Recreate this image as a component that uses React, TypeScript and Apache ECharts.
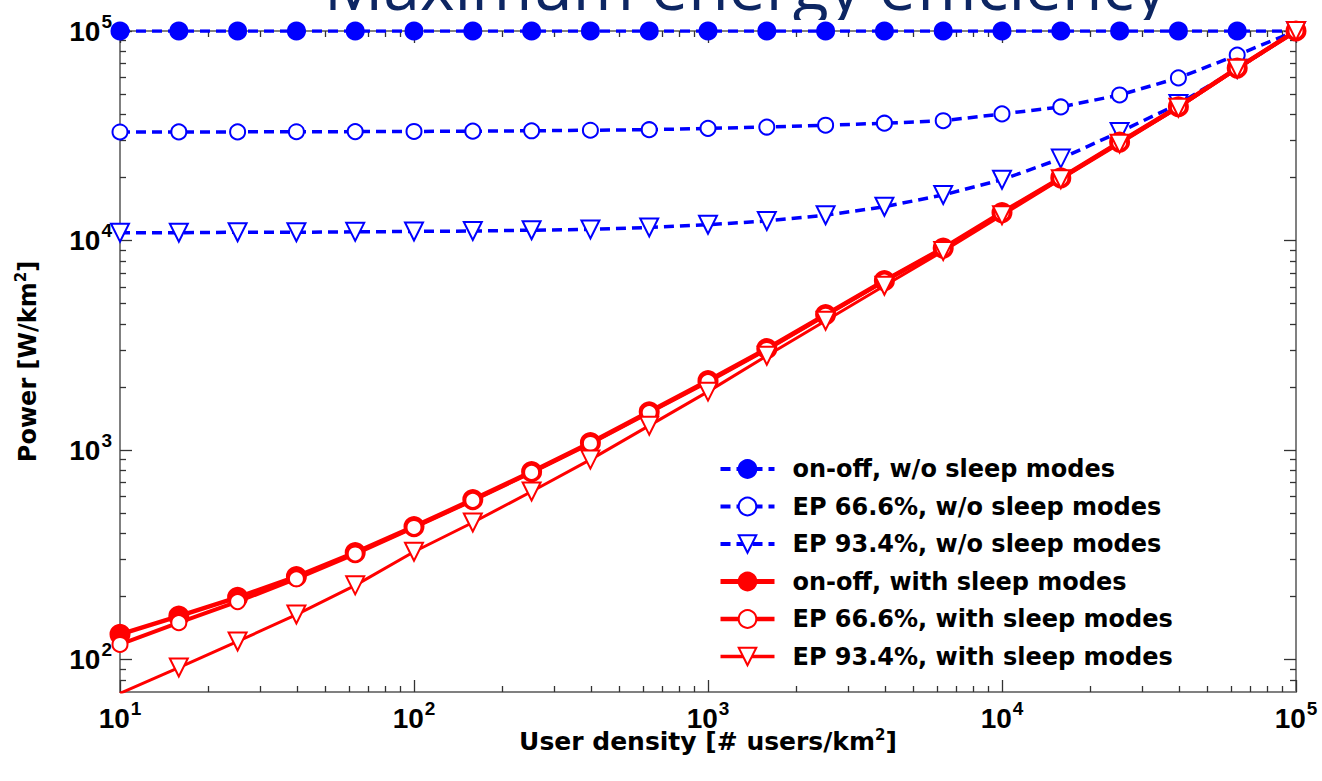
import React, { useEffect, useRef } from 'react';
import * as echarts from 'echarts';

// User density [# users/km^2]
const userDensity = [10, 15.85, 25.12, 39.81, 63.1, 100, 158.5, 251.2, 398.1, 631, 1000, 1585, 2512, 3981, 6310, 10000, 15849, 25119, 39811, 63096, 100000];

// Power [W/km^2]
const onOffNoSleep = [100000, 100000, 100000, 100000, 100000, 100000, 100000, 100000, 100000, 100000, 100000, 100000, 100000, 100000, 100000, 100000, 100000, 100000, 100000, 100000, 100000];
const ep666NoSleep = [32960, 33000, 33000, 33050, 33100, 33150, 33250, 33400, 33600, 33800, 34300, 34800, 35500, 36300, 37300, 40200, 43400, 49500, 59700, 76800, 100000];
const ep934NoSleep = [10900, 10900, 10950, 10950, 11000, 11050, 11100, 11200, 11300, 11550, 11900, 12400, 13200, 14500, 16500, 19500, 24600, 33000, 44800, 66000, 100000];
const onOffSleep = [132, 161, 198, 249, 324, 431, 580, 788, 1084, 1523, 2143, 3046, 4430, 6430, 9200, 13600, 19900, 29500, 43500, 66500, 100000];
const ep666Sleep = [118, 150, 189, 243, 319, 427, 575, 782, 1075, 1510, 2120, 3020, 4400, 6400, 9150, 13500, 19800, 29400, 43400, 66400, 100000];
const ep934Sleep = [69, 91.6, 122, 164, 226, 327, 451, 634, 900, 1307, 1900, 2820, 4140, 6080, 8900, 13200, 19600, 29000, 43000, 66000, 100000];

const seriesNames = [
  'on-off, w/o sleep modes',
  'EP 66.6%, w/o sleep modes',
  'EP 93.4%, w/o sleep modes',
  'on-off, with sleep modes',
  'EP 66.6%, with sleep modes',
  'EP 93.4%, with sleep modes',
];

const xMajorTicks = [10, 100, 1000, 10000, 100000];
const yMajorTicks = [100, 1000, 10000, 100000];
const xMinorTicks = [20, 30, 40, 50, 60, 70, 80, 90, 200, 300, 400, 500, 600, 700, 800, 900, 2000, 3000, 4000, 5000, 6000, 7000, 8000, 9000, 20000, 30000, 40000, 50000, 60000, 70000, 80000, 90000];
const yMinorTicks = [80, 90, 200, 300, 400, 500, 600, 700, 800, 900, 2000, 3000, 4000, 5000, 6000, 7000, 8000, 9000, 20000, 30000, 40000, 50000, 60000, 70000, 80000, 90000];

const X_MIN = 10;
const X_MAX = 100000;
const Y_MIN = 70;
const Y_MAX = 100000;

const BLUE = '#0000ff';
const RED = '#ff0000';
const AXIS_GREY = '#808080';
const TICK = '#333333';

const pairs = (ys: number[]) => userDensity.map((x, i) => [x, ys[i]]);

const powLabel = (v: number) => '{b|10}{s|' + Math.round(Math.log10(v)) + '}';

const labelRich = {
  b: { fontFamily: 'Liberation Sans', fontWeight: 'bold', fontSize: 28, lineHeight: 28, color: '#000' },
  s: { fontFamily: 'Liberation Sans', fontWeight: 'bold', fontSize: 19, lineHeight: 19, color: '#000', padding: [0, 0, 20, 1] },
};

const nameRich = {
  s: { fontFamily: 'DejaVu Sans', fontWeight: 'bold', fontSize: 15, lineHeight: 15, color: '#000', padding: [0, 0, 14, 0] },
};

function makeAxes(dim: 'x' | 'y') {
  const isX = dim === 'x';
  const min = isX ? X_MIN : Y_MIN;
  const max = isX ? X_MAX : Y_MAX;
  const major = isX ? xMajorTicks : yMajorTicks;
  const minor = isX ? xMinorTicks : yMinorTicks;
  const mainPos = isX ? 'bottom' : 'left';
  const oppPos = isX ? 'top' : 'right';
  const base = { type: 'log', logBase: 10, min, max, splitLine: { show: false }, minorTick: { show: false } };
  return [
    {
      ...base,
      position: mainPos,
      axisLine: { show: true, onZero: false, lineStyle: { color: AXIS_GREY, width: 2 } },
      axisTick: { show: true, inside: true, length: 12, customValues: major, lineStyle: { color: TICK, width: 1.3 } },
      axisLabel: {
        show: true,
        customValues: major,
        formatter: powLabel,
        rich: labelRich,
        margin: isX ? 12 : 8,
      },
      name: isX ? 'User density [# users/km{s|2}]' : 'Power [W/km{s|2}]',
      nameLocation: 'middle',
      nameGap: isX ? 37 : 80,
      nameMoveOverlap: false,
      nameTextStyle: {
        fontFamily: 'DejaVu Sans',
        fontWeight: 'bold',
        fontSize: isX ? 25 : 24,
        color: '#000',
        rich: nameRich,
      },
    },
    {
      ...base,
      position: mainPos,
      axisLine: { show: false, onZero: false },
      axisTick: { show: true, inside: true, length: 6, customValues: minor, lineStyle: { color: TICK, width: 1.3 } },
      axisLabel: { show: false },
    },
    {
      ...base,
      position: oppPos,
      axisLine: { show: true, onZero: false, lineStyle: { color: AXIS_GREY, width: 2 } },
      axisTick: { show: true, inside: true, length: 12, customValues: major, lineStyle: { color: TICK, width: 1.3 } },
      axisLabel: { show: false },
    },
    {
      ...base,
      position: oppPos,
      axisLine: { show: false, onZero: false },
      axisTick: { show: true, inside: true, length: 6, customValues: minor, lineStyle: { color: TICK, width: 1.3 } },
      axisLabel: { show: false },
    },
  ];
}

type Look = {
  color: string;
  dashed: boolean;
  width: number;
  symbol: string;
  size: number;
  rotate: number;
  border: number;
};

const looks: Look[] = [
  { color: BLUE, dashed: true, width: 3.5, symbol: 'circle', size: 16, rotate: 0, border: 3 },
  { color: BLUE, dashed: true, width: 3.5, symbol: 'emptyCircle', size: 15, rotate: 0, border: 3.5 },
  { color: BLUE, dashed: true, width: 3.5, symbol: 'emptyTriangle', size: 18, rotate: 180, border: 3 },
  { color: RED, dashed: false, width: 4.5, symbol: 'circle', size: 18, rotate: 0, border: 3 },
  { color: RED, dashed: false, width: 4, symbol: 'emptyCircle', size: 15, rotate: 0, border: 3.5 },
  { color: RED, dashed: false, width: 3, symbol: 'emptyTriangle', size: 18, rotate: 180, border: 3 },
];

const seriesValues = [onOffNoSleep, ep666NoSleep, ep934NoSleep, onOffSleep, ep666Sleep, ep934Sleep];

function lineSeries(name: string, ys: number[], lk: Look) {
  return {
    name,
    type: 'line',
    xAxisIndex: 0,
    yAxisIndex: 0,
    data: pairs(ys),
    clip: true,
    symbol: lk.symbol,
    symbolSize: lk.size,
    symbolRotate: lk.rotate,
    showAllSymbol: true,
    lineStyle: { color: lk.color, width: lk.width, type: lk.dashed ? [10, 6] : 'solid' },
    itemStyle: { color: lk.color, borderColor: lk.color, borderWidth: lk.border },
    emphasis: { disabled: true },
  };
}

export default function App() {
  const ref = useRef<HTMLDivElement>(null);

  useEffect(() => {
    if (!ref.current) return;
    const chart = echarts.init(ref.current, null, { renderer: 'svg' });
    const option: any = {
      animation: false,
      backgroundColor: '#ffffff',
      grid: { left: 120, right: 26, top: 31, bottom: 89, containLabel: false },
      xAxis: makeAxes('x'),
      yAxis: makeAxes('y'),
      legend: {
        orient: 'vertical',
        left: 713,
        top: 452,
        padding: 5,
        itemWidth: 54,
        itemHeight: 22,
        itemGap: 13.5,
        selectedMode: false,
        data: seriesNames.map((n, i) => ({
          name: n,
          lineStyle: { width: looks[i].width + 0.5 },
        })),
        textStyle: {
          fontFamily: 'DejaVu Sans',
          fontWeight: 'bold',
          fontSize: 24,
          color: '#000',
          padding: [0, 0, 0, 13],
        },
      },
      graphic: [
        {
          type: 'text',
          x: 324,
          y: -16,
          z: -10,
          style: {
            text: 'Maximum energy efficiency',
            fontFamily: 'Open Sans',
            fontSize: 66,
            fill: '#0d2663',
            textAlign: 'left',
            textVerticalAlign: 'middle',
          },
        },
        {
          type: 'rect',
          z: -9,
          shape: { x: 300, y: 20, width: 900, height: 9 },
          style: { fill: '#ffffff' },
        },
      ],
      series: seriesNames.map((n, i) => lineSeries(n, seriesValues[i], looks[i])),
    };
    chart.setOption(option);
    return () => chart.dispose();
  }, []);

  return (
    <div
      ref={ref}
      style={{ position: 'fixed', left: 0, top: 0, width: 1322, height: 781, background: '#fff' }}
    />
  );
}
